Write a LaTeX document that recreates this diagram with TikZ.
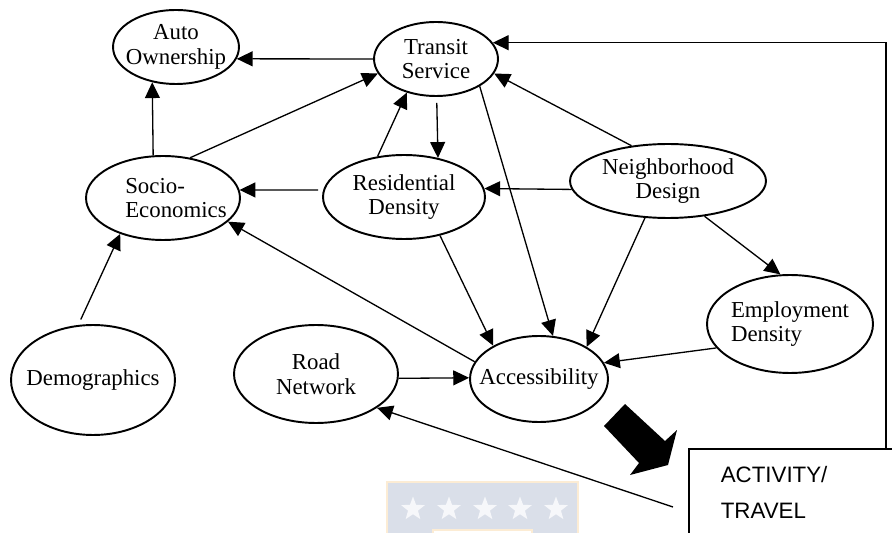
\documentclass[tikz,border=0pt]{standalone}
\usepackage{fontspec}
\setmainfont{Liberation Serif}
\newfontfamily\boxfont{Liberation Sans}
\usetikzlibrary{shapes.geometric,arrows.meta,calc}
\definecolor{wmblue}{RGB}{218,223,233}
\definecolor{wmstar}{RGB}{246,247,250}
\definecolor{wmedge}{RGB}{252,236,212}
\newcommand\ellfont{\fontsize{13}{14}\selectfont}

\begin{document}
\begin{tikzpicture}[x=0.02cm, y=-0.02cm,
	bubble/.style={ellipse, draw, line width=1.1pt, inner sep=-8pt, align=center, font=\ellfont},
	arr/.style={-{Triangle[length=9pt,width=8.5pt]}, line width=0.75pt}]
	\useasboundingbox (0,0) rectangle (892,533);
	\clip (0,0) rectangle (892,533);
	% watermark
	\fill[wmblue] (387,482) rectangle (578,540);
	\draw[wmedge, line width=1pt] (387,482) rectangle (578,540);
	\foreach \sx [count=\i] in {413,449,485,520,556}
		\node[star, star points=5, star point ratio=2.4, fill=wmstar, minimum size=0.5cm, inner sep=0] (star\i) at (\sx,509) {};
	\draw[wmedge, fill=white, line width=1pt] (433,530) rectangle (532,545);
	% ellipses
	\node[bubble, minimum width=2.52cm, minimum height=1.48cm] (auto) at (176,47) {Auto\\Ownership};
	\node[bubble, minimum width=2.48cm, minimum height=1.48cm] (trans) at (436,59) {Transit\\Service};
	\node[bubble, minimum width=3.08cm, minimum height=1.68cm, align=left] (soc) at (163,198) {\hspace*{0.52cm}Socio-\\\hspace*{0.52cm}Economics};
	\node[bubble, minimum width=3.24cm, minimum height=1.68cm] (res) at (404,197) {Residential\\Density};
	\node[bubble, minimum width=3.92cm, minimum height=1.48cm] (nbh) at (668,181) {Neighborhood\\Design};
	\node[bubble, minimum width=3.32cm, minimum height=1.96cm, align=left] (emp) at (790,324) {Employment\\Density};
	\node[bubble, minimum width=2.76cm, minimum height=1.72cm] (acc) at (539,379) {Accessibility};
	\node[bubble, minimum width=3.28cm, minimum height=1.96cm] (road) at (316,374) {Road\\Network};
	\node[bubble, minimum width=3.28cm, minimum height=2.2cm] (demo) at (93,380) {Demographics};
	% outcome box
	\node[draw, line width=0.9pt, anchor=north west, text width=3.12cm, inner xsep=0.64cm, minimum height=1.76cm, align=left, font=\boxfont\fontsize{12.7}{20.5}\selectfont] (act) at (688,448) {ACTIVITY/\\TRAVEL};
	\coordinate (actin) at (673,507);
	% links
	\draw[arr] (trans.180) -- (auto.-11);
	\draw[arr] (soc.103) -- (auto.236);
	\draw[arr] (soc.56) -- (trans.194);
	\draw[arr] (res.123) -- (trans.229);
	\draw[arr, shorten <=0.12cm] (trans.271) -- (res.49);
	\draw[arr] (trans.-32) -- (acc.72);
	\draw[arr] (nbh.136) -- (trans.-14);
	\draw[arr] (nbh.185) -- (res.6);
	\draw[arr, shorten <=0.1cm] (res.175) -- (soc.6);
	\draw[arr] (acc.165) -- (soc.-20);
	\draw[arr] (res.-47) -- (acc.144);
	\draw[arr] (nbh.238) -- (acc.34);
	\draw[arr] (nbh.-44) -- (emp.101);
	\draw[arr] (emp.198) -- (acc.14);
	\draw[arr] (road.-3) -- (acc.179);
	\draw[arr, shorten <=0.12cm] (demo.105) -- (soc.220);
	\draw[arr] (actin) -- (road.-29);
	\draw[arr] ($(act.north west)+(198,0)$) |- (trans.16);
	% big arrow
	\fill (625,404) -- (665,441) -- (677,430) -- (668,465) -- (630,475) -- (639,463) -- (604,426) -- cycle;
\end{tikzpicture}
\end{document}
